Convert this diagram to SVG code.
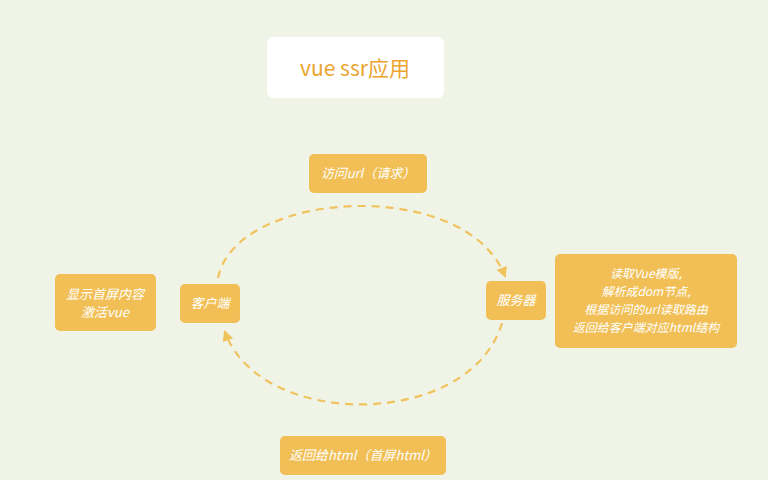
<svg xmlns="http://www.w3.org/2000/svg" width="768" height="480" viewBox="0 0 768 480">
<style>
.n{fill:#f1bf56;}
.t{fill:#fff;font-family:"Noto Sans CJK SC","Liberation Sans",sans-serif;font-size:13px;font-style:italic;text-anchor:middle;}
.s{font-size:12px;}
.c{fill:none;stroke:#f1c35e;stroke-width:2.2;stroke-dasharray:8 6;}
</style>
<defs><marker id="a" viewBox="0 0 10 10" refX="8" refY="5" markerWidth="5" markerHeight="5" orient="auto"><path d="M0,0L10,5L0,10z" fill="#f1c35e"/></marker></defs>
<rect width="768" height="480" fill="#eff4e7"/>
<g id="title"><rect x="267" y="37" width="177" height="61" rx="6" fill="#fff"/><text x="355" y="76" font-family="Noto Sans CJK SC,Liberation Sans,sans-serif" font-size="21" fill="#eba52e" text-anchor="middle">vue ssr应用</text></g>
<g id="connectors">
<path class="c" d="M218,278 C235,190 465,175 505,276" marker-end="url(#a)"/>
<path class="c" d="M502,323 C470,430 260,430 225,332" marker-end="url(#a)"/>
</g>
<g id="req"><rect class="n" x="309" y="154" width="118" height="39" rx="5"/><text class="t" x="368" y="178">访问url（请求）</text></g>
<g id="client"><rect class="n" x="180" y="284" width="60" height="39" rx="5"/><text class="t" x="210" y="308">客户端</text></g>
<g id="server"><rect class="n" x="486" y="281" width="60" height="39" rx="5"/><text class="t" x="516" y="305">服务器</text></g>
<g id="show"><rect class="n" x="55" y="274" width="101" height="57" rx="5"/><text class="t" x="105" y="299">显示首屏内容</text><text class="t" x="105" y="317">激活vue</text></g>
<g id="detail"><rect class="n" x="555" y="254" width="182" height="94" rx="5"/><text class="t s" x="646" y="278">读取Vue模版,</text><text class="t s" x="646" y="296">解析成dom节点,</text><text class="t s" x="646" y="314">根据访问的url读取路由</text><text class="t s" x="646" y="332">返回给客户端对应html结构</text></g>
<g id="resp"><rect class="n" x="280" y="436" width="166" height="39" rx="5"/><text class="t" x="363" y="460">返回给html（首屏html）</text></g>
</svg>
